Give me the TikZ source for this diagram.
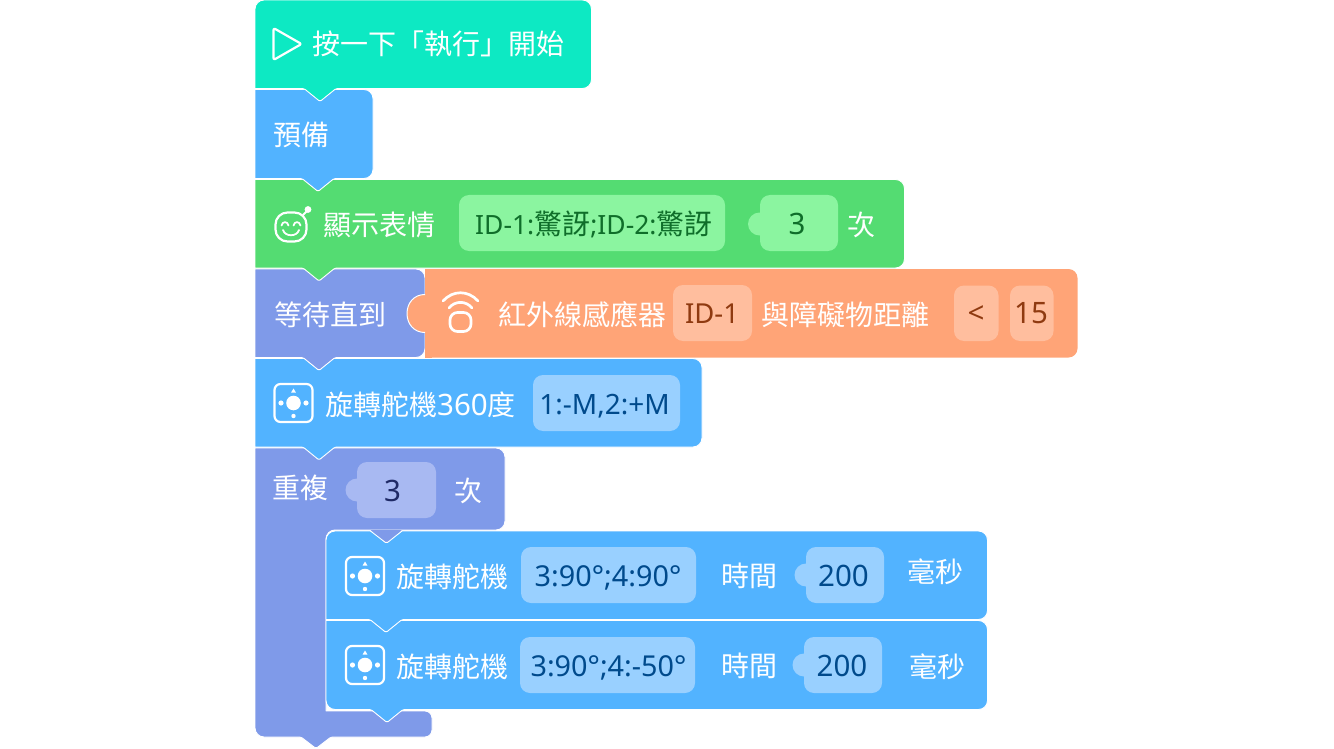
\documentclass[tikz,border=0pt]{standalone}
\usepackage{fontspec}
\setmainfont{Noto Sans}
\newfontfamily\cjk[Kerning=Off]{Noto Sans CJK TC}
\definecolor{cStart}{HTML}{0DE9C3}
\definecolor{cBlue}{HTML}{52B3FF}
\definecolor{cGreen}{HTML}{54DC72}
\definecolor{cPurple}{HTML}{7F9AE9}
\definecolor{cOrange}{HTML}{FFA477}
\definecolor{pGreen}{HTML}{8BF5A0}
\definecolor{pBlue}{HTML}{99D0FF}
\definecolor{pOrange}{HTML}{FFBE9E}
\definecolor{pPurple}{HTML}{A8B9F2}
\definecolor{tGreen}{HTML}{0F6E2A}
\definecolor{tBlue}{HTML}{004A8C}
\definecolor{tOrange}{HTML}{8F3A10}
\definecolor{tPurple}{HTML}{1F2A66}
\newcommand{\cjkt}[1]{{\fontsize{28}{28}\selectfont\cjk #1}}
\tikzset{
  blockedge/.style={draw=white,line width=0.9pt,line join=round},
  icon/.style={draw=white,line width=2.2pt,fill=none,line cap=round,line join=round},
  lbl/.style={anchor=base west,inner sep=0pt,text=white,font=\fontsize{28}{28}\selectfont\cjk},
  val/.style={anchor=base,inner sep=0pt,font=\fontsize{29.5}{30}\selectfont},
  valid/.style={anchor=base,inner sep=0pt,font=\fontsize{26.5}{30}\selectfont},
  valdeg/.style={anchor=base,inner sep=0pt,font=\fontsize{28.8}{30}\selectfont},
}
% colour, x0,y0,x1,y1, tab centre, top-left radius, bottom-left radius
\newcommand{\blk}[8]{%
  \path[blockedge,fill=#1] (#2,{(#3+#5)/2}) [rounded corners=#7pt] -- (#2,#3) [rounded corners=9pt] -- (#4,#3) -- (#4,#5)
    [rounded corners=1.5pt] -- ({#6+16},#5) -- (#6,{#5+13}) -- ({#6-16},#5) [rounded corners=#8pt] -- (#2,#5) [sharp corners] -- cycle;}
\newcommand{\pill}[6]{\path[fill=#2,rounded corners=10pt] (#3,#4) rectangle (#5,#6);}
\newcommand{\servo}[3]{%
  \begin{scope}[shift={(#2,#3)}]
    \draw[icon,rounded corners=6pt] (-19,-19) rectangle (19,19);
    \fill[white] (0,0) circle (7.3pt) (-12.5,0) circle (2.6pt) (12.5,0) circle (2.6pt) (0,13) circle (2.2pt);
    \fill[white] (-2.4,-10.5) -- (2.4,-10.5) -- (0,-14.5) -- cycle;
  \end{scope}}
\begin{document}
\begin{tikzpicture}[x=1pt,y=-1pt]
\useasboundingbox (0,0) rectangle (1334,749);
% repeat block (C shape)
\path[blockedge,fill=cPurple] (255,500) [sharp corners] -- (255,448) [rounded corners=9pt] -- (505,448) -- (505,530) -- (326,530) [sharp corners] -- (326,711) [rounded corners=7pt] -- (432,711) -- (432,737)
  [rounded corners=1.5pt] -- (331,737) -- (316,748.5) -- (301,737) [rounded corners=9pt] -- (255,737) [sharp corners] -- cycle;
\blk{cBlue}{326}{620.5}{987.5}{709.5}{387}{0}{9}
\blk{cBlue}{326}{531}{987.5}{619.5}{386}{9}{0}
\path[fill=cPurple] (370.5,530) [rounded corners=1.5pt] -- (386.5,543) [sharp corners] -- (402,530) -- cycle;
\draw[blockedge] (370.5,531) [rounded corners=1.5pt] -- (386.5,543.3) [sharp corners] -- (402,531);
\blk{cBlue}{255}{358.5}{702}{447}{319}{0}{0}
% wait block and orange sensor
\path[fill=cOrange] (425,269) [rounded corners=9pt] -- (1077.5,269) -- (1077.5,357.5) [sharp corners] -- (425,357.5) -- cycle;
\blk{cPurple}{255}{269}{425}{357.5}{319}{0}{0}
\path[fill=cOrange] (425,269) rectangle (432,357.5);
\fill[cOrange] (426,313.5) circle (19pt);
\draw[white,line width=1pt] (425,294.5) .. controls (414,294.5) and (407,303) .. (407,313.5) .. controls (407,324) and (414,332.5) .. (425,332.5);
\blk{cGreen}{255}{179.5}{904.5}{268}{319}{0}{0}
\blk{cBlue}{255}{89.5}{373}{178.5}{318}{0}{0}
\blk{cStart}{255}{0}{591.5}{88.5}{320}{9}{0}
% start
\draw[icon,rounded corners=2pt] (273.5,28) -- (301.5,44) -- (273.5,60) -- cycle;
\node[lbl] (tStart) at (312,54.5) {按一下「執行」開始};
\node[lbl] (tPrep) at (273,145.5) {預備};
% emoji row
\draw[icon,rounded corners=12pt] (275.5,212.5) rectangle (306.5,241.5);
\draw[icon,line width=1.8pt] (303,215) -- (307,211);
\fill[white] (308,209.5) circle (3.4pt);
\draw[icon,line width=1.8pt] (281.5,225.5) .. controls (282.5,221) and (287.5,221) .. (288.5,225.5);
\draw[icon,line width=1.8pt] (293.5,225.5) .. controls (294.5,221) and (299.5,221) .. (300.5,225.5);
\draw[icon,line width=1.8pt] (283,230) .. controls (285,237) and (297,237) .. (299,230);
\node[lbl] (tFace) at (323,235.5) {顯示表情};
\pill{pFace}{pGreen}{459}{195}{725}{251}
\node[valid,anchor=base west,text=tGreen] (vFace) at (475,234) {ID-1:\cjkt{驚訝};ID-2:\cjkt{驚訝}};
\fill[pGreen] (759.5,224) circle (11.5pt);
\pill{pTimes}{pGreen}{760}{195}{838}{251}
\node[val,text=tGreen] (vTimes) at (797,234.5) {3};
\node[lbl] (tTimes) at (847,235.5) {次};
% wait row
\node[lbl] (tWait) at (274,325.5) {等待直到};
\draw[icon,line width=2.7pt] (443,301) .. controls (453,290) and (468,290) .. (478,301);
\draw[icon,line width=2.7pt] (449,308) .. controls (455,300.5) and (466,300.5) .. (472,308);
\draw[icon,line width=2.7pt,rounded corners=7.5pt] (450,312.5) rectangle (471,331.5);
\node[lbl] (tIr) at (498,325.5) {紅外線感應器};
\pill{pId}{pOrange}{673}{285}{752}{341}
\node[valid,font=\fontsize{27.5}{30}\selectfont,text=tOrange] (vId) at (712,323.5) {ID-1};
\node[lbl] (tDist) at (761,325.5) {與障礙物距離};
\pill{pLt}{pOrange}{954}{285.5}{998.5}{341}
\node[val,text=tOrange] (vLt) at (976,323.5) {<};
\pill{pNum}{pOrange}{1010}{285.5}{1053.5}{341}
\node[val,text=tOrange] (vNum) at (1031,323.5) {15};
% servo 360
\servo{s1}{293.5}{403}
\node[lbl] (tS1) at (325,415.5) {旋轉舵機{\fontsize{29.5}{30}\selectfont\rmfamily 360}度};
\pill{pS1}{pBlue}{533}{375}{680}{431}
\node[valid,font=\fontsize{28}{30}\selectfont,text=tBlue] (vS1) at (604.5,414.5) {1:-M,2:+M};
% repeat
\node[lbl] (tRep) at (272,498.5) {重複};
\fill[pPurple] (357,490) circle (11.5pt);
\pill{pRep}{pPurple}{357}{462}{436}{518}
\node[val,text=tPurple] (vRep) at (392.5,501) {3};
\node[lbl] (tRep2) at (454,501.5) {次};
% inner 1
\servo{s2}{365}{576}
\node[lbl] (tS2) at (396,587.5) {旋轉舵機};
\pill{pS2}{pBlue}{521}{547}{696}{603}
\node[valdeg,text=tBlue] (vS2) at (608,586.5) {3:90°;4:90°};
\node[lbl] (tT2) at (721,586.5) {時間};
\fill[pBlue] (806,575) circle (11.5pt);
\pill{pD2}{pBlue}{806}{547}{884}{603}
\node[val,text=tBlue] (vD2) at (843.5,586.5) {200};
\node[lbl] (tM2) at (907,582.5) {毫秒};
% inner 2
\servo{s3}{365}{665}
\node[lbl] (tS3) at (396,677.5) {旋轉舵機};
\pill{pS3}{pBlue}{520}{637}{695}{693}
\node[valdeg,text=tBlue] (vS3) at (608.5,676) {3:90°;4:-50°};
\node[lbl] (tT3) at (721,676.5) {時間};
\fill[pBlue] (804,665) circle (11.5pt);
\pill{pD3}{pBlue}{804}{637}{882}{693}
\node[val,text=tBlue] (vD3) at (842,676) {200};
\node[lbl] (tM3) at (909,677.5) {毫秒};
\end{tikzpicture}
\end{document}
